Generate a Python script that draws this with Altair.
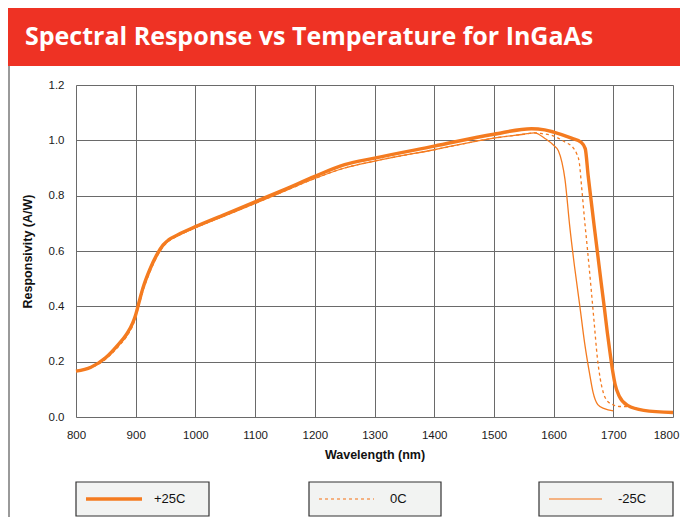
import altair as alt
import pandas as pd

# ---- data ----
series_names = ["+25C", "0C", "-25C"]

wl_p25 = [800, 825, 850, 870, 885, 895, 900, 905, 912, 924, 935, 946, 955, 970, 1000, 1050,
          1100, 1150, 1200, 1250, 1300, 1400, 1500, 1563, 1585, 1600, 1630, 1646, 1653,
          1658, 1663, 1668, 1674, 1680, 1685, 1690, 1695, 1699, 1703, 1710, 1724, 1751, 1800]
r_p25 = [0.166, 0.180, 0.215, 0.260, 0.300, 0.340, 0.370, 0.410, 0.465, 0.535, 0.585, 0.622,
         0.640, 0.658, 0.688, 0.733, 0.778, 0.823, 0.870, 0.912, 0.936, 0.979, 1.022, 1.042,
         1.038, 1.030, 1.008, 0.993, 0.970, 0.870, 0.780, 0.690, 0.585, 0.480, 0.395, 0.305,
         0.225, 0.165, 0.118, 0.075, 0.042, 0.024, 0.016]

wl_0 = [800, 825, 850, 870, 885, 895, 900, 905, 912, 924, 935, 946, 955, 970, 1000, 1050,
        1100, 1150, 1200, 1250, 1300, 1400, 1500, 1550, 1568, 1581, 1597, 1619, 1632, 1638,
        1643, 1647, 1652, 1657, 1663, 1668, 1673, 1678, 1683, 1690, 1700, 1712, 1724, 1751, 1800]
r_0 = [0.166, 0.178, 0.210, 0.252, 0.292, 0.330, 0.360, 0.400, 0.455, 0.525, 0.577, 0.615,
       0.635, 0.654, 0.684, 0.728, 0.772, 0.817, 0.862, 0.900, 0.925, 0.966, 1.008, 1.022,
       1.027, 1.024, 1.018, 0.994, 0.975, 0.955, 0.920, 0.830, 0.710, 0.600, 0.460, 0.340,
       0.220, 0.140, 0.090, 0.058, 0.044, 0.038, 0.038, 0.024, 0.016]

wl_m25 = [800, 825, 850, 870, 885, 895, 900, 905, 912, 924, 935, 946, 955, 970, 1000, 1050,
          1100, 1150, 1200, 1250, 1300, 1400, 1500, 1550, 1568, 1586, 1600, 1608, 1614, 1619,
          1627, 1635, 1644, 1652, 1660, 1666, 1674, 1685, 1700]
r_m25 = [0.166, 0.178, 0.212, 0.255, 0.295, 0.335, 0.365, 0.405, 0.460, 0.530, 0.580, 0.618,
         0.637, 0.655, 0.684, 0.728, 0.772, 0.817, 0.862, 0.900, 0.925, 0.966, 1.008, 1.022,
         1.027, 1.006, 0.982, 0.962, 0.920, 0.860, 0.690, 0.545, 0.400, 0.267, 0.160, 0.090,
         0.045, 0.030, 0.022]

x_ticks = [800, 900, 1000, 1100, 1200, 1300, 1400, 1500, 1600, 1700, 1800]
y_ticks = [0.0, 0.2, 0.4, 0.6, 0.8, 1.0, 1.2]

title_text = "Spectral Response vs Temperature for InGaAs"
x_title = "Wavelength (nm)"
y_title = "Responsivity (A/W)"

rows = []
for name, wl, r in zip(series_names, [wl_p25, wl_0, wl_m25], [r_p25, r_0, r_m25]):
    for i, (a, b) in enumerate(zip(wl, r)):
        rows.append({"series": name, "wl": a, "resp": b, "i": i})
df = pd.DataFrame(rows)

ORANGE = "#f47b20"
LIGHT_OR = "#f59c5c"
W, H = 597, 332
FONT = "Liberation Sans, Arial, Helvetica, sans-serif"

base = alt.Chart(df)

x_enc = alt.X("wl:Q", scale=alt.Scale(domain=[800, 1800], nice=False, zero=False),
              axis=alt.Axis(values=x_ticks, format="d", title=x_title, grid=True,
                            ticks=False, labelFlush=False, labelOverlap=False,
                            labelOffset={"condition": {"test": "datum.value === 1800",
                                                       "value": -7}, "value": 0},
                            labelPadding=12, titlePadding=8, labelFontSize=11.5,
                            titleFontSize=12.5, titleFontWeight="bold", domain=False,
                            labelColor="#1a1a1a", titleColor="#111", labelFont=FONT,
                            titleFont=FONT, gridColor="#6a6a6a", gridWidth=1,
                            gridOpacity=1))
y_enc = alt.Y("resp:Q", scale=alt.Scale(domain=[0, 1.2], nice=False),
              axis=alt.Axis(values=y_ticks, format=".1f", title=y_title, grid=True,
                            ticks=False, labelFlush=False, labelOverlap=False,
                            labelPadding=12, titlePadding=14,
                            labelFontSize=11.5, titleFontSize=12.5, titleFontWeight="bold",
                            domain=False, labelColor="#1a1a1a", titleColor="#111",
                            labelFont=FONT, titleFont=FONT, gridColor="#6a6a6a",
                            gridWidth=1, gridOpacity=1))

def line(name, **kw):
    return base.transform_filter(alt.datum.series == name).mark_line(
        color=ORANGE, interpolate="monotone", **kw
    ).encode(x=x_enc, y=y_enc, order="i:Q")

l_m25 = line("-25C", strokeWidth=1.3)
l_0 = line("0C", strokeWidth=1.3, strokeDash=[3, 3])
l_p25 = line("+25C", strokeWidth=3.4)

# ---- decorations (title bar, side rule, legend boxes) ----
one = alt.Chart(pd.DataFrame({"a": [0]}))

title_bar = one.mark_rect(color="#ee3224", clip=False).encode(
    x=alt.value(-68), x2=alt.value(610), y=alt.value(-78), y2=alt.value(-19))
title_mark = one.mark_text(text=title_text, color="white", font="Open Sans",
                           fontWeight="bold", fontSize=25, align="left",
                           baseline="alphabetic").encode(
    x=alt.value(-51), y=alt.value(-40))
side_rule = one.mark_rule(color="#9a9a9a", strokeWidth=2).encode(
    x=alt.value(-67), y=alt.value(-19), y2=alt.value(440))

legend_layers = []
box_x = [0, 233, 463]
box_w = [133, 132, 134]
sample_len = [56, 55, 53]
text_off = [78, 81, 79]
BOX_TOP, BOX_BOT = 397, 431
MID = (BOX_TOP + BOX_BOT) / 2
styles = [dict(strokeWidth=3.4, color=ORANGE),
          dict(strokeWidth=1.4, color=LIGHT_OR, strokeDash=[3, 3]),
          dict(strokeWidth=1.4, color=LIGHT_OR)]
for k, name in enumerate(series_names):
    bx = box_x[k]
    legend_layers.append(one.mark_rect(fill="#f2f3f2", stroke="#333333",
                                       strokeWidth=1.2).encode(
        x=alt.value(bx), x2=alt.value(bx + box_w[k]),
        y=alt.value(BOX_TOP), y2=alt.value(BOX_BOT)))
    legend_layers.append(one.mark_rule(**styles[k]).encode(
        x=alt.value(bx + 10), x2=alt.value(bx + 10 + sample_len[k]), y=alt.value(MID)))
    legend_layers.append(one.mark_text(text=name, font=FONT, fontSize=13,
                                       color="#111", align="left",
                                       baseline="middle").encode(
        x=alt.value(bx + text_off[k]), y=alt.value(MID)))

chart = alt.layer(
    title_bar, title_mark, side_rule, l_m25, l_0, l_p25, *legend_layers
).properties(
    width=W, height=H,
    padding={"left": 68, "top": 77, "right": 7, "bottom": 100},
    autosize=alt.AutoSizeParams(type="none"),
).configure_view(
    fill="#f2f3f2", stroke="#2a2a2a", strokeWidth=1.5
).configure(background="white")

chart.save("out.html", embed_options={"renderer": "svg", "actions": False})
